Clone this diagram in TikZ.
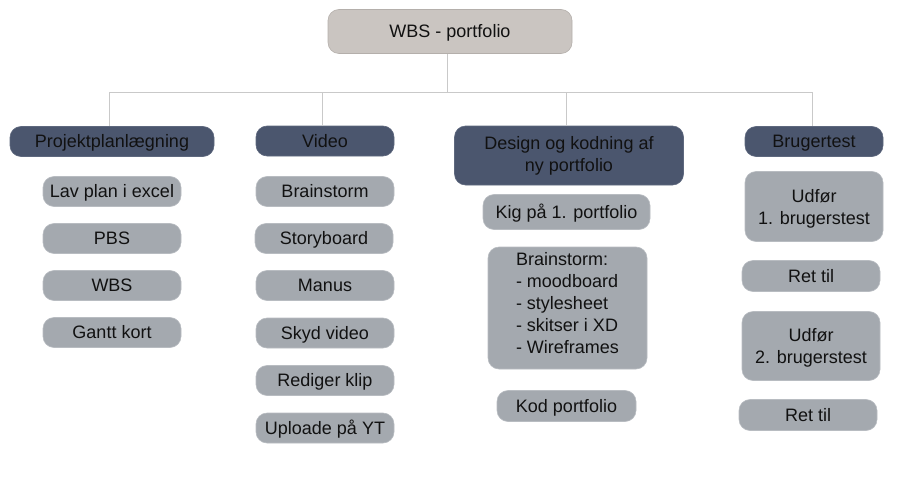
\documentclass[tikz,border=0pt]{standalone}
\usepackage{fontspec}
\setmainfont{Liberation Sans}
\begin{document}
\begin{tikzpicture}[x=1pt,y=-1pt,
  every node/.style={font=\fontsize{18}{22}\selectfont, text=txtc, inner sep=0pt},
  oneline/.style={text height=15pt, text depth=2.1pt},
  rootbox/.style={draw=rootline, line width=0.6pt, fill=rootfill, rounded corners=11pt},
  headbox/.style={draw=headline, line width=0.6pt, fill=headfill, rounded corners=11pt, minimum height=30pt},
  itembox/.style={draw=itemline, line width=0.6pt, fill=itemfill, rounded corners=11pt, minimum height=30pt},
  conn/.style={draw=connc, line width=0.9pt}
]
\definecolor{rootfill}{HTML}{CAC5C1}
\definecolor{rootline}{HTML}{B4AFAB}
\definecolor{headfill}{HTML}{4B566E}
\definecolor{headline}{HTML}{5E687E}
\definecolor{itemfill}{HTML}{A4A9AF}
\definecolor{itemline}{HTML}{B8BCC1}
\definecolor{txtc}{HTML}{111111}
\definecolor{connc}{HTML}{C9C9C9}
\useasboundingbox (0,0) rectangle (909,492);

% root
\node[rootbox, oneline, minimum width=244pt, minimum height=44pt] (root) at (450,31.5) {WBS - portfolio};

% headers
\node[headbox, oneline, minimum width=204pt] (h1) at (112,141.5) {Projektplanlægning};
\node[headbox, oneline, minimum width=138pt] (h2) at (325,141) {Video};
\node[headbox, minimum width=229pt, minimum height=59pt, align=center] (h3) at (569,155.5) {Design og kodning af\\ny portfolio};
\node[headbox, oneline, minimum width=138pt] (h4) at (814,141.5) {Brugertest};

% bus
\coordinate (bus) at (447,92);
\draw[conn] (root.south -| bus) -- (bus);
\draw[conn] (bus) -| ([xshift=-3pt]h1.north);
\draw[conn] (bus) -| ([xshift=-3pt]h2.north);
\draw[conn] (bus) -| ([xshift=-3pt]h3.north);
\draw[conn] (bus) -| ([xshift=-2pt]h4.north);

% column 1
\node[itembox, oneline, minimum width=138pt] (a1) at (112,191.5) {Lav plan i excel};
\node[itembox, oneline, minimum width=138pt] (a2) at (112,238.5) {PBS};
\node[itembox, oneline, minimum width=138pt] (a3) at (112,285.5) {WBS};
\node[itembox, oneline, minimum width=138pt] (a4) at (112,332.5) {Gantt kort};

% column 2
\node[itembox, oneline, minimum width=138pt] (b1) at (325,191.5) {Brainstorm};
\node[itembox, oneline, minimum width=138pt] (b2) at (324,238.5) {Storyboard};
\node[itembox, oneline, minimum width=138pt] (b3) at (325,285.5) {Manus};
\node[itembox, oneline, minimum width=138pt] (b4) at (325,333) {Skyd video};
\node[itembox, oneline, minimum width=138pt] (b5) at (325,380.5) {Rediger klip};
\node[itembox, oneline, minimum width=138pt] (b6) at (325,428) {Uploade på YT};

% column 3
\node[itembox, oneline, minimum width=167pt, minimum height=35pt] (c1) at (566.5,212) {Kig på 1. portfolio};
\node[itembox, minimum width=159pt, minimum height=122pt] (c2) at (567.5,308) {\raisebox{3pt}[\height][\depth]{\begin{tabular}{@{}l@{}}Brainstorm:\\- moodboard\\- stylesheet\\- skitser i XD\\- Wireframes\end{tabular}}};
\node[itembox, oneline, minimum width=139pt, minimum height=31pt] (c3) at (566.5,406) {Kod portfolio};

% column 4
\node[itembox, minimum width=138pt, minimum height=70pt, align=center, text depth=0pt] (d1) at (814,206.5) {Udfør\\1. brugerstest};
\node[itembox, oneline, minimum width=138pt, minimum height=31pt] (d2) at (811,276) {Ret til};
\node[itembox, minimum width=138pt, minimum height=69pt, align=center, text depth=0pt] (d3) at (811,346) {Udfør\\2. brugerstest};
\node[itembox, oneline, minimum width=138pt, minimum height=31pt] (d4) at (808,415) {Ret til};
\end{tikzpicture}
\end{document}
